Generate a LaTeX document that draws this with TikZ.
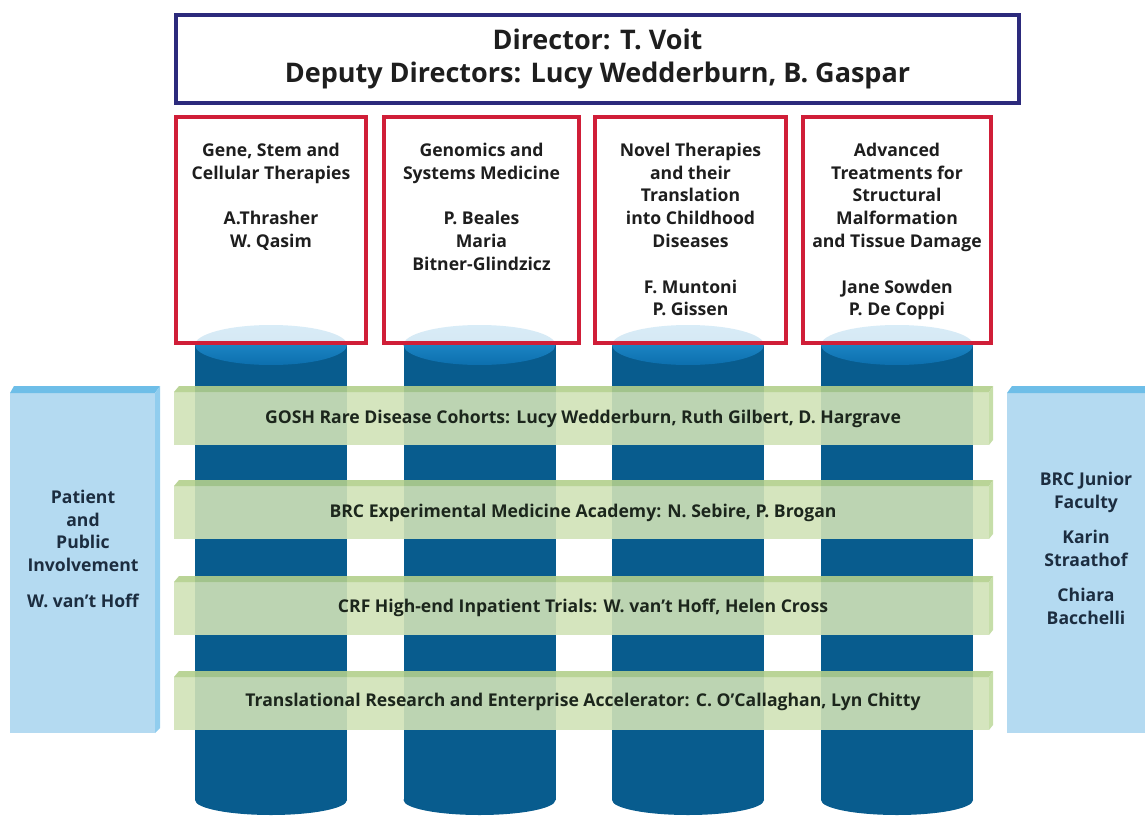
\documentclass[tikz,border=0pt]{standalone}
\usepackage{fontspec}
\setmainfont{Open Sans}
\usetikzlibrary{shadows}

\definecolor{navyline}{RGB}{44,42,124}
\definecolor{boxred}{RGB}{208,30,56}
\definecolor{cylbody}{RGB}{8,92,142}
\definecolor{cyltopA}{RGB}{42,152,214}
\definecolor{cyltopB}{RGB}{12,111,174}
\definecolor{barfront}{RGB}{208,226,183}
\definecolor{bartop}{RGB}{178,207,140}
\definecolor{barside}{RGB}{192,218,160}
\definecolor{panelfront}{RGB}{180,218,241}
\definecolor{paneltop}{RGB}{110,190,232}
\definecolor{panelside}{RGB}{145,205,238}
\definecolor{inktext}{RGB}{30,30,30}
\definecolor{panelink}{RGB}{28,45,64}
\definecolor{barink}{RGB}{28,38,28}

\newcommand\titlefont{\fontsize{27}{33}\selectfont\bfseries}
\newcommand\cardfont{\fontsize{17.6}{22.8}\selectfont\bfseries}

\tikzset{
  shadowed/.style={drop shadow={opacity=0.18, shadow xshift=2pt, shadow yshift=-2pt}},
  topbox/.style={shadowed, draw=navyline, line width=3.5pt, fill=white, inner sep=0pt,
    align=center, font=\titlefont, text=inktext},
  cardbase/.style={shadowed, fill=white, draw=none, inner sep=0pt},
  cardframe/.style={draw=boxred, line width=3.5pt, fill=white, fill opacity=0.82, inner sep=0pt},
  cardtext/.style={anchor=north, inner sep=0pt, align=center, font=\cardfont, text=inktext},
  paneltext/.style={anchor=north, inner sep=0pt, align=center, font=\cardfont, text=panelink},
  bartext/.style={anchor=base, inner sep=0pt, font=\cardfont, text=barink},
  greenbar/.pic={
    \fill[barfront, opacity=0.9] (0,6) rectangle (815,59);
    \fill[bartop, opacity=0.9] (0,6) -- (5,0) -- (819,0) -- (815,6) -- cycle;
    \fill[barside, opacity=0.9] (815,6) -- (819,0) -- (819,54) -- (815,59) -- cycle;
  }
}

\begin{document}
\begin{tikzpicture}[x=1pt,y=-1pt]
\useasboundingbox (0,0) rectangle (1145,818);

% director box
\node[topbox, minimum width=843pt, minimum height=88pt] (dir) at (597.5,59)
  {Director: T. Voit\\Deputy Directors: Lucy Wedderburn, B. Gaspar};

% white backing of the four theme cards
\node[cardbase, minimum width=190pt, minimum height=226pt] (c1) at (271,230) {};
\node[cardbase, minimum width=195pt, minimum height=226pt] (c2) at (481.5,230) {};
\node[cardbase, minimum width=191pt, minimum height=226pt] (c3) at (690.5,230) {};
\node[cardbase, minimum width=188pt, minimum height=226pt] (c4) at (897,230) {};

% the four pillars
\foreach \cx in {271,479.5,688,897} {
  \fill[cylbody] (\cx-76,345) rectangle (\cx+76,800);
  \fill[cylbody] (\cx,800) ellipse [x radius=76, y radius=15];
  \shade[top color=cyltopA, bottom color=cyltopB] (\cx,345) ellipse [x radius=76, y radius=20];
}

% card frames (translucent so the pillar tops show through)
\node[cardframe, minimum width=190pt, minimum height=226pt] (f1) at (271,230) {};
\node[cardframe, minimum width=195pt, minimum height=226pt] (f2) at (481.5,230) {};
\node[cardframe, minimum width=191pt, minimum height=226pt] (f3) at (690.5,230) {};
\node[cardframe, minimum width=188pt, minimum height=226pt] (f4) at (897,230) {};

\node[cardtext] (t1) at (271,140.2)
  {\strut Gene, Stem and\\Cellular Therapies\\[22.8pt]A.Thrasher\\W. Qasim};
\node[cardtext] (t2) at (481.5,140.2)
  {\strut Genomics and\\Systems Medicine\\[22.8pt]P. Beales\\Maria\\Bitner-Glindzicz};
\node[cardtext] (t3) at (690.5,140.2)
  {\strut Novel Therapies\\and their\\Translation\\into Childhood\\Diseases\\[22.8pt]F. Muntoni\\P. Gissen};
\node[cardtext] (t4) at (897,140.2)
  {\strut Advanced\\Treatments for\\Structural\\Malformation\\and Tissue Damage\\[22.8pt]Jane Sowden\\P. De Coppi};

% cross-cutting bars
\pic at (174,386) {greenbar};
\pic at (174,480) {greenbar};
\pic at (174,576) {greenbar};
\pic at (174,671) {greenbar};

\node[bartext] (g1) at (583,423.2)
  {GOSH Rare Disease Cohorts: Lucy Wedderburn, Ruth Gilbert, D. Hargrave};
\node[bartext] (g2) at (583,517.2)
  {BRC Experimental Medicine Academy: N. Sebire, P. Brogan};
\node[bartext] (g3) at (583,612.2)
  {CRF High-end Inpatient Trials: W. van't Hoff, Helen Cross};
\node[bartext] (g4) at (583,706.2)
  {Translational Research and Enterprise Accelerator: C. O'Callaghan, Lyn Chitty};

% side panels
\fill[panelfront] (10,393) rectangle (155,733);
\fill[paneltop] (10,393) -- (14,386) -- (160,386) -- (155,393) -- cycle;
\fill[panelside] (155,393) -- (160,386) -- (160,728) -- (155,733) -- cycle;

\fill[panelfront] (1007,393) rectangle (1145,733);
\fill[paneltop] (1007,393) -- (1012,386) -- (1145,386) -- (1145,393) -- cycle;

\node[paneltext] (ppi) at (83,487.2)
  {\strut Patient\\and\\Public\\Involvement\\[13pt]W. van't Hoff};
\node[paneltext] (jf) at (1086,469.2)
  {\strut BRC Junior\\Faculty\\[12.5pt]Karin\\Straathof\\[12.5pt]Chiara\\Bacchelli};
\end{tikzpicture}
\end{document}
